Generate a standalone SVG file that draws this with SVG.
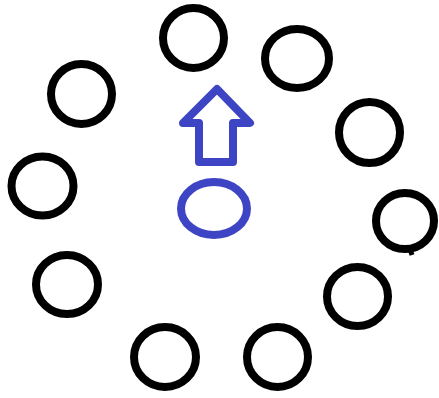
<svg xmlns="http://www.w3.org/2000/svg" width="439" height="398" viewBox="0 0 439 398">
<style>
.ring{fill:none;stroke:#000;stroke-width:8}
.blue{fill:none;stroke:#3d45c4;stroke-width:8;stroke-linejoin:round}
</style>
<rect width="439" height="398" fill="#fff"/>
<g id="c1"><ellipse class="ring" cx="193.5" cy="38" rx="30.5" ry="30"/></g>
<g id="c2"><ellipse class="ring" cx="297" cy="58.5" rx="32" ry="29.5"/></g>
<g id="c3"><ellipse class="ring" cx="81.5" cy="94" rx="30.5" ry="30"/></g>
<g id="c4"><ellipse class="ring" cx="369.5" cy="132.5" rx="30.5" ry="30.5"/></g>
<g id="c5"><ellipse class="ring" cx="42.5" cy="186" rx="31" ry="29.5"/></g>
<g id="c6"><ellipse class="ring" cx="405" cy="221" rx="29" ry="28"/><path d="M410,249 L412,255" stroke="#000" stroke-width="5"/></g>
<g id="c7"><ellipse class="ring" cx="67" cy="284.5" rx="31" ry="29.5"/></g>
<g id="c8"><ellipse class="ring" cx="357.5" cy="296.5" rx="30.5" ry="29.5"/></g>
<g id="c9"><ellipse class="ring" cx="165" cy="357" rx="31" ry="30"/></g>
<g id="c10"><ellipse class="ring" cx="277.5" cy="357" rx="30.5" ry="30"/></g>
<g id="arrow"><path class="blue" d="M217,89 L250,123 L233,123 L233,162 L199,162 L199,123 L183,123 Z"/></g>
<g id="ellipse"><ellipse class="blue" cx="214" cy="208.5" rx="33" ry="26.5"/></g>
<g id="connectors"/>
</svg>
